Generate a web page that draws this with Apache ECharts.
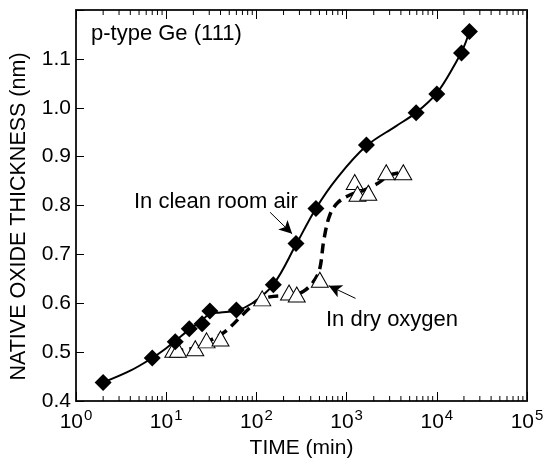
<!DOCTYPE html>
<html>
<head>
<meta charset="utf-8">
<script src="https://cdn.jsdelivr.net/npm/echarts@6/dist/echarts.min.js"></script>
<style>html,body{margin:0;padding:0;background:#fff}#c{width:552px;height:464px}</style>
</head>
<body>
<div id="c"></div>
<script>
// Clean room air (filled diamonds): [time (min), thickness (nm)]
var airPoints = [[2,0.438],[7,0.488],[12.6,0.521],[18,0.548],[25,0.558],[30.5,0.584],[60,0.586],[154,0.638],[275,0.722],[457,0.794],[1660,0.924],[5900,0.99],[10000,1.028],[18800,1.112],[23000,1.156]];
// Dry oxygen (open triangles)
var oxyPoints = [[12,0.505],[13.5,0.505],[21,0.508],[28,0.524],[40,0.528],[116,0.61],[230,0.622],[280,0.618],[505,0.648],[1230,0.848],[1320,0.824],[1740,0.826],[2750,0.868],[4250,0.868]];
// Fitted guide curves
var airCurve = [[2,0.438],[4,0.462],[7,0.488],[10,0.508],[13,0.525],[18,0.546],[25,0.565],[30,0.578],[40,0.581],[60,0.585],[90,0.6],[154,0.638],[275,0.72],[457,0.794],[800,0.858],[1660,0.922],[3500,0.962],[5900,0.99],[10000,1.03],[16000,1.09],[20000,1.125],[23000,1.156]];
var oxyCurve = [[12,0.503],[20,0.508],[30,0.523],[45,0.542],[70,0.576],[100,0.602],[140,0.613],[250,0.617],[330,0.624],[420,0.642],[500,0.668],[560,0.73],[650,0.78],[800,0.806],[1100,0.822],[1500,0.83],[2200,0.845],[3000,0.862],[4250,0.868]];
var yTicks = ['0.4','0.5','0.6','0.7','0.8','0.9','1.0','1.1'];
var xDecades = [0,1,2,3,4,5];

var minorTicks = [];
for (var d = 0; d < xDecades.length - 1; d++) {
  for (var k = 2; k <= 9; k++) minorTicks.push([k * Math.pow(10, xDecades[d]), 0.4]);
}

var FONT = 'Liberation Sans, Arial, sans-serif';
var chart = echarts.init(document.getElementById('c'), null, {renderer: 'canvas'});
var axisLine = {show: true, lineStyle: {color: '#222', width: 2}};
var option = {
  animation: false,
  backgroundColor: '#fff',
  grid: {left: 72, right: 25, top: 10, bottom: 53},
  xAxis: [{
    type: 'log', logBase: 10, min: 1, max: 100000, position: 'bottom',
    axisLine: axisLine,
    axisTick: {show: true, inside: true, length: 9, lineStyle: {color: '#000', width: 1}},
    splitLine: {show: false},
    axisLabel: {
      margin: 7, color: '#000', fontFamily: FONT,
      formatter: function (v) { return '{b|10}{s|' + Math.round(Math.log10(v)) + '}'; },
      rich: {
        b: {fontSize: 21, fontFamily: FONT, color: '#000'},
        s: {fontSize: 15, fontFamily: FONT, color: '#000', padding: [0, 0, 13, 1]}
      }
    },
    name: 'TIME (min)', nameLocation: 'middle', nameGap: 37,
    nameTextStyle: {fontSize: 21, fontFamily: FONT, color: '#000'}
  }, {
    type: 'log', logBase: 10, min: 1, max: 100000, position: 'top',
    axisLine: axisLine,
    axisTick: {show: true, inside: true, length: 9, lineStyle: {color: '#000', width: 1}},
    axisLabel: {show: false}, splitLine: {show: false}
  }],
  yAxis: [{
    type: 'value', min: 0.4, max: 1.2, interval: 0.1,
    axisLine: axisLine,
    axisTick: {show: true, inside: true, length: 8, lineStyle: {color: '#000', width: 1}},
    splitLine: {show: false},
    axisLabel: {
      margin: 5, fontSize: 21, fontFamily: FONT, color: '#000',
      formatter: function (v) { var i = Math.round((v - 0.4) * 10); return yTicks[i] || ''; }
    },
    name: 'NATIVE OXIDE THICKNESS (nm)', nameLocation: 'middle', nameGap: 46,
    nameTextStyle: {fontSize: 21.5, fontFamily: FONT, color: '#000', padding: [0, 22, 0, 0]}
  }, {
    type: 'value', min: 0.4, max: 1.2, position: 'right',
    axisLine: axisLine, axisTick: {show: false}, axisLabel: {show: false}, splitLine: {show: false}
  }],
  series: [
    {
      type: 'custom', xAxisIndex: 0, yAxisIndex: 0, data: minorTicks, silent: true, clip: false,
      encode: {x: 0, y: 1},
      renderItem: function (params, api) {
        var x = api.value(0);
        var pb = api.coord([x, 0.4]);
        var pt = api.coord([x, 1.2]);
        var st = {stroke: '#000', lineWidth: 1};
        return {type: 'group', children: [
          {type: 'line', shape: {x1: pb[0], y1: pb[1], x2: pb[0], y2: pb[1] - 5}, style: st},
          {type: 'line', shape: {x1: pt[0], y1: pt[1], x2: pt[0], y2: pt[1] + 5}, style: st}
        ]};
      }
    },
    {
      type: 'line', data: airCurve, smooth: 0.35, showSymbol: false, symbol: 'none',
      lineStyle: {color: '#000', width: 2}, z: 2,
      markLine: {
        silent: true, symbol: ['none', 'arrow'], symbolSize: [10, 13], label: {show: false},
        lineStyle: {color: '#000', width: 1, type: 'solid'},
        data: [
          [{coord: [142, 0.786]}, {coord: [249, 0.742]}],
          [{coord: [1256, 0.61]}, {coord: [634, 0.636]}]
        ]
      }
    },
    {
      type: 'line', data: oxyCurve, smooth: 0.35, showSymbol: false, symbol: 'none',
      lineStyle: {color: '#000', width: 3.5, type: [10, 6]}, z: 2
    },
    {
      type: 'scatter', data: oxyPoints, symbol: 'triangle', symbolSize: [17, 15],
      itemStyle: {color: '#fff', borderColor: '#000', borderWidth: 1, opacity: 1}, z: 4
    },
    {
      type: 'scatter', data: airPoints, symbol: 'diamond', symbolSize: [17, 17],
      itemStyle: {color: '#000', opacity: 1}, z: 5
    }
  ],
  graphic: [
    {type: 'text', left: 91, top: 23, style: {text: 'p-type Ge (111)', fontSize: 22, fontFamily: FONT, fill: '#000'}},
    {type: 'text', left: 134, top: 191, style: {text: 'In clean room air', fontSize: 22, fontFamily: FONT, fill: '#000'}},
    {type: 'text', left: 326, top: 309, style: {text: 'In dry oxygen', fontSize: 22, fontFamily: FONT, fill: '#000'}}
  ]
};
chart.setOption(option);
</script>
</body>
</html>
